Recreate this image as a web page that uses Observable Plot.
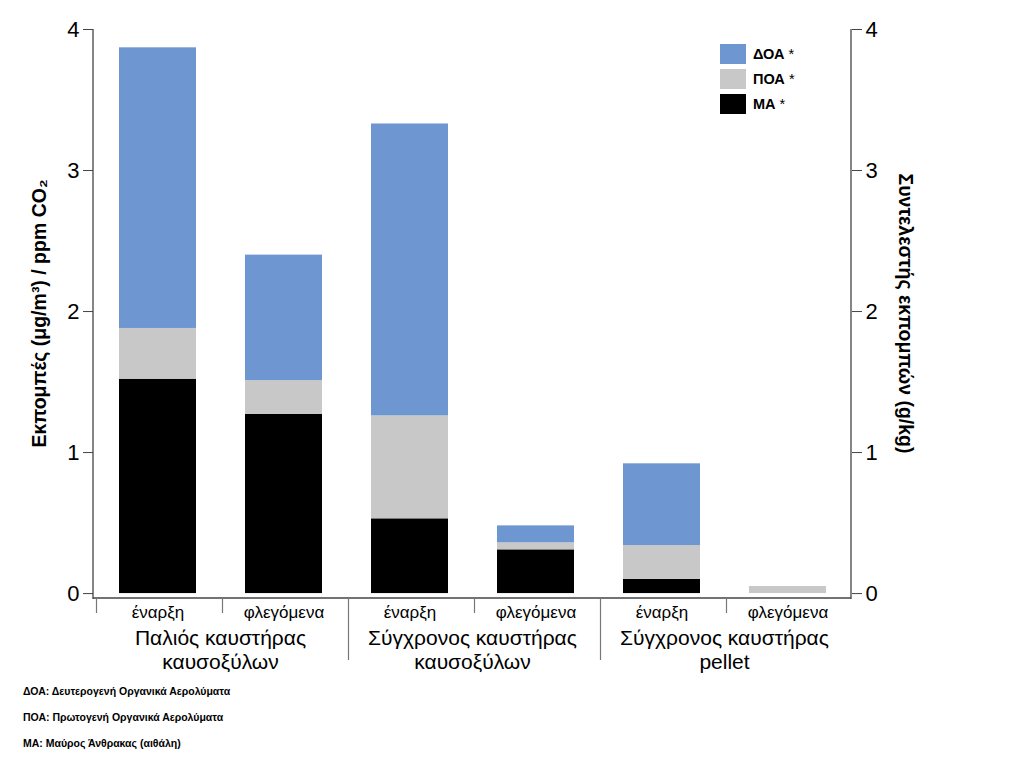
<!DOCTYPE html>
<html>
<head>
<meta charset="utf-8">
<script src="https://cdn.jsdelivr.net/npm/d3@7"></script>
<script src="https://cdn.jsdelivr.net/npm/@observablehq/plot@0.6"></script>
<style>
  body { margin: 0; background: #fff; font-family: "Liberation Sans", Arial, sans-serif; }
  #wrap { position: relative; width: 1024px; height: 758px; }
  .legend { position: absolute; left: 720px; top: 41px; }
  .legend .row { display: flex; align-items: center; height: 25px; font-weight: bold; font-size: 14.5px; }
  .legend .sw { width: 26px; height: 20px; margin-right: 7px; }
  .notes { position: absolute; left: 23px; top: 685px; font-size: 10.5px; font-weight: bold; }
  .notes div { height: 26px; }
</style>
</head>
<body>
<div id="wrap"></div>
<script>
// ---- data ----
const barIds = ["p1", "p2", "s1", "s2", "e1", "e2"];
const barLabels = ["έναρξη", "φλεγόμενα", "έναρξη", "φλεγόμενα", "έναρξη", "φλεγόμενα"];
const groupLabels = ["Παλιός καυστήρας\nκαυσοξύλων", "Σύγχρονος καυστήρας\nκαυσοξύλων", "Σύγχρονος καυστήρας\npellet"];
const components = ["ΜΑ", "ΠΟΑ", "ΔΟΑ"];
const componentColors = ["#000000", "#c8c8c8", "#6e96d0"];
const maValues  = [1.52, 1.27, 0.53, 0.31, 0.10, 0.00];
const poaValues = [0.36, 0.24, 0.73, 0.05, 0.24, 0.05];
const soaValues = [1.99, 0.89, 2.07, 0.12, 0.58, 0.00];
const yTicks = [0, 1, 2, 3, 4];
const leftTitle = "Εκπομπές (μg/m³) / ppm CO₂";
const rightTitle = "Συντελεστής εκπομπών (g/kg)";
const legendLabels = ["ΔΟΑ *", "ΠΟΑ *", "ΜΑ *"];
const notes = ["ΔΟΑ: Δευτερογενή Οργανικά Αερολύματα", "ΠΟΑ: Πρωτογενή Οργανικά Αερολύματα", "ΜΑ: Μαύρος Άνθρακας (αιθάλη)"];

const seriesValues = [maValues, poaValues, soaValues];
const rows = [];
components.forEach((c, ci) => barIds.forEach((b, bi) => rows.push({bar: b, comp: c, value: seriesValues[ci][bi]})));
const labelOf = Object.fromEntries(barIds.map((b, i) => [b, barLabels[i]]));

const font = "'Liberation Sans', Arial, sans-serif";

function decorations(index, scales, values, dim) {
  const x = scales.x, y = scales.y;
  const bw = typeof x.bandwidth === "function" ? x.bandwidth() : x.bandwidth;
  const step = typeof x.step === "function" ? x.step() : x.step;
  const left = dim.marginLeft, right = dim.width - dim.marginRight;
  const bottom = dim.height - dim.marginBottom;
  const midY = (y(4) + bottom) / 2;
  const g = d3.create("svg:g");
  const stroke = "#444";
  // axis lines
  g.append("line").attr("x1", left).attr("x2", left).attr("y1", y(4)).attr("y2", bottom + 1).attr("stroke", stroke).attr("stroke-width", 1.3);
  g.append("line").attr("x1", right).attr("x2", right).attr("y1", y(4)).attr("y2", bottom + 1).attr("stroke", stroke).attr("stroke-width", 1.3);
  g.append("line").attr("x1", left).attr("x2", right).attr("y1", bottom).attr("y2", bottom).attr("stroke", stroke).attr("stroke-width", 1.3);
  // separator ticks at band boundaries
  barIds.forEach((b, i) => {
    const bx = x(b) - (step - bw) / 2 + 2;
    const long = i === 2 || i === 4;
    g.append("line").attr("x1", bx).attr("x2", bx).attr("y1", bottom).attr("y2", bottom + (long ? 62 : 15)).attr("stroke", "#777").attr("stroke-width", 1.2);
  });
  // group labels
  groupLabels.forEach((lab, gi) => {
    const cx = x(barIds[gi * 2]) + bw + (step - bw) / 2;
    const t = g.append("text").attr("text-anchor", "middle").attr("font-size", 21).attr("font-family", font).attr("fill", "#000");
    lab.split("\n").forEach((line, li) => {
      t.append("tspan").attr("x", cx).attr("y", bottom + 47 + li * 24).text(line);
    });
  });
  // axis titles
  g.append("text").attr("transform", `translate(${left - 47},${midY}) rotate(-90)`)
    .attr("text-anchor", "middle").attr("font-size", 19.5).attr("font-weight", "bold").attr("font-family", font).attr("fill", "#000")
    .text(leftTitle);
  g.append("text").attr("transform", `translate(${right + 48},${midY}) rotate(90)`)
    .attr("text-anchor", "middle").attr("font-size", 19.5).attr("font-weight", "bold").attr("font-family", font).attr("fill", "#000")
    .text(rightTitle);
  return g.node();
}

const chart = Plot.plot({
  width: 1024,
  height: 680,
  marginLeft: 93,
  marginRight: 173,
  marginTop: 29,
  marginBottom: 82,
  style: {fontFamily: font, background: "#fff", color: "#000"},
  x: {type: "band", domain: barIds, paddingInner: 0.39, paddingOuter: 0.195, axis: null},
  y: {domain: [-0.035, 4], axis: null},
  color: {domain: components, range: componentColors},
  marks: [
    Plot.barY(rows, {x: "bar", y: "value", fill: "comp"}),
    Plot.axisX({tickSize: 0, tickPadding: 7, fontSize: 17, tickFormat: d => labelOf[d], label: null}),
    Plot.axisY({anchor: "left", ticks: yTicks, tickFormat: "d", tickSize: 10, tickPadding: 4, fontSize: 22, label: null, stroke: "#444"}),
    Plot.axisY({anchor: "right", ticks: yTicks, tickFormat: "d", tickSize: 10, tickPadding: 4, fontSize: 22, label: null, stroke: "#444"}),
    decorations
  ]
});

const wrap = document.getElementById("wrap");
wrap.appendChild(chart);

const legend = document.createElement("div");
legend.className = "legend";
const legendColors = [componentColors[2], componentColors[1], componentColors[0]];
legendLabels.forEach((l, i) => {
  const row = document.createElement("div");
  row.className = "row";
  const sw = document.createElement("div");
  sw.className = "sw";
  sw.style.background = legendColors[i];
  const tx = document.createElement("span");
  const parts = l.split(" ");
  tx.innerHTML = parts[0] + ' <span style="font-weight:normal">' + parts[1] + '</span>';
  row.appendChild(sw); row.appendChild(tx);
  legend.appendChild(row);
});
wrap.appendChild(legend);

const nt = document.createElement("div");
nt.className = "notes";
notes.forEach(n => { const d = document.createElement("div"); d.textContent = n; nt.appendChild(d); });
wrap.appendChild(nt);
</script>
</body>
</html>
